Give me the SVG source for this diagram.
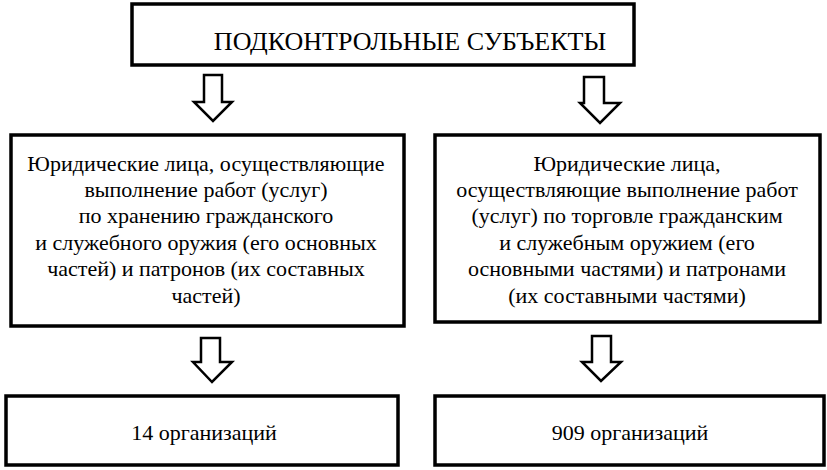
<svg xmlns="http://www.w3.org/2000/svg" width="827" height="470" viewBox="0 0 827 470">
<style>
.box{fill:#fff;stroke:#000;stroke-width:3.5}
.arr{fill:#fff;stroke:#000;stroke-width:2.5;stroke-linejoin:miter}
.tx{fill:#000;text-anchor:middle}
.t{font-size:26px}
.b{font-size:22px}
</style>
<rect width="827" height="470" fill="#fff"/>
<g font-family="Liberation Serif, Times New Roman, serif" class="tx">
<g id="top">
<rect class="box" x="132" y="4" width="502" height="61"/>
<text class="t" x="410" y="50">ПОДКОНТРОЛЬНЫЕ СУБЪЕКТЫ</text>
</g>
<g id="left-mid">
<rect class="box" x="11" y="135" width="393" height="191"/>
<text class="b" x="206" y="171">Юридические лица, осуществляющие</text>
<text class="b" x="206" y="197">выполнение работ (услуг)</text>
<text class="b" x="206" y="223">по хранению гражданского</text>
<text class="b" x="206" y="250">и служебного оружия (его основных</text>
<text class="b" x="206" y="276">частей) и патронов (их составных</text>
<text class="b" x="206" y="303">частей)</text>
</g>
<g id="right-mid">
<rect class="box" x="435" y="135" width="385" height="187"/>
<text class="b" x="627" y="171">Юридические лица,</text>
<text class="b" x="627" y="197">осуществляющие выполнение работ</text>
<text class="b" x="627" y="223">(услуг) по торговле гражданским</text>
<text class="b" x="627" y="250">и служебным оружием (его</text>
<text class="b" x="627" y="276">основными частями) и патронами</text>
<text class="b" x="627" y="303">(их составными частями)</text>
</g>
<g id="left-bottom">
<rect class="box" x="6" y="396" width="392" height="69"/>
<text class="b" x="204" y="440">14 организаций</text>
</g>
<g id="right-bottom">
<rect class="box" x="435" y="396" width="389" height="69"/>
<text class="b" x="630" y="440">909 организаций</text>
</g>
</g>
<g id="connectors">
<polygon class="arr" points="204,75 222,75 222,102 232,102 213,121 194,102 204,102"/>
<polygon class="arr" points="584,77 604,77 604,103 620,103 600,123 580,103 584,103"/>
<polygon class="arr" points="201,338 220,338 220,362 232,362 212,382 193,362 201,362"/>
<polygon class="arr" points="592,336 611,336 611,362 621,362 601,381 582,362 592,362"/>
</g>
</svg>
